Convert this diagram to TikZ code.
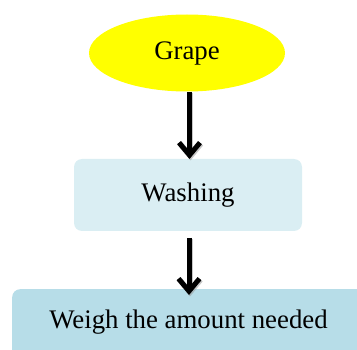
\documentclass[tikz,border=0pt]{standalone}
\usepackage{fontspec}
\setmainfont{Liberation Serif}
\usetikzlibrary{shapes.geometric,arrows.meta}
\definecolor{grapeyellow}{HTML}{FFFF00}
\definecolor{washblue}{HTML}{DAEEF3}
\definecolor{weighblue}{HTML}{B7DDE8}
\tikzset{
  x=1pt,y=1pt,
  lbl/.style={font=\fontsize{26.8}{31}\selectfont, text=black},
  ovalbox/.style={ellipse, fill=grapeyellow, draw=none, minimum width=196pt, minimum height=77pt, inner sep=0pt},
  roundbox/.style={rounded corners=8pt, draw=none, inner sep=0pt},
  flowarrow/.style={line width=5pt, -{Straight Barb[length=12.5pt,width=21pt]}},
  flowshadow/.style={line width=5.5pt, draw=black!40, opacity=0.55, -{Straight Barb[length=12.5pt,width=21pt]}}
}
\begin{document}
\begin{tikzpicture}
\useasboundingbox (0,0) rectangle (357,349);
\begin{scope}
\clip (0,0) rectangle (357,349);
\node[ovalbox, lbl] (grape) at (187,296) {Grape};
\node[roundbox, fill=washblue, minimum width=228pt, minimum height=72pt, lbl] (wash) at (188,154) {Washing};
\node[roundbox, fill=weighblue, minimum width=358pt, minimum height=80pt, anchor=north west] (weighbg) at (12,60) {};
\node[lbl] (weigh) at (188.5,27) {Weigh the amount needed};
\coordinate (a1s) at (189.5,257);
\coordinate (a1e) at (189.5,190);
\coordinate (a2s) at (189,111);
\coordinate (a2e) at (189,54);
\draw[flowshadow] ([shift={(1pt,-1.5pt)}]a1s) -- ([shift={(1pt,-1.5pt)}]a1e);
\draw[flowarrow] (a1s) -- (a1e);
\draw[flowshadow] ([shift={(1pt,-1.5pt)}]a2s) -- ([shift={(1pt,-1.5pt)}]a2e);
\draw[flowarrow] (a2s) -- (a2e);
\end{scope}
\end{tikzpicture}
\end{document}
